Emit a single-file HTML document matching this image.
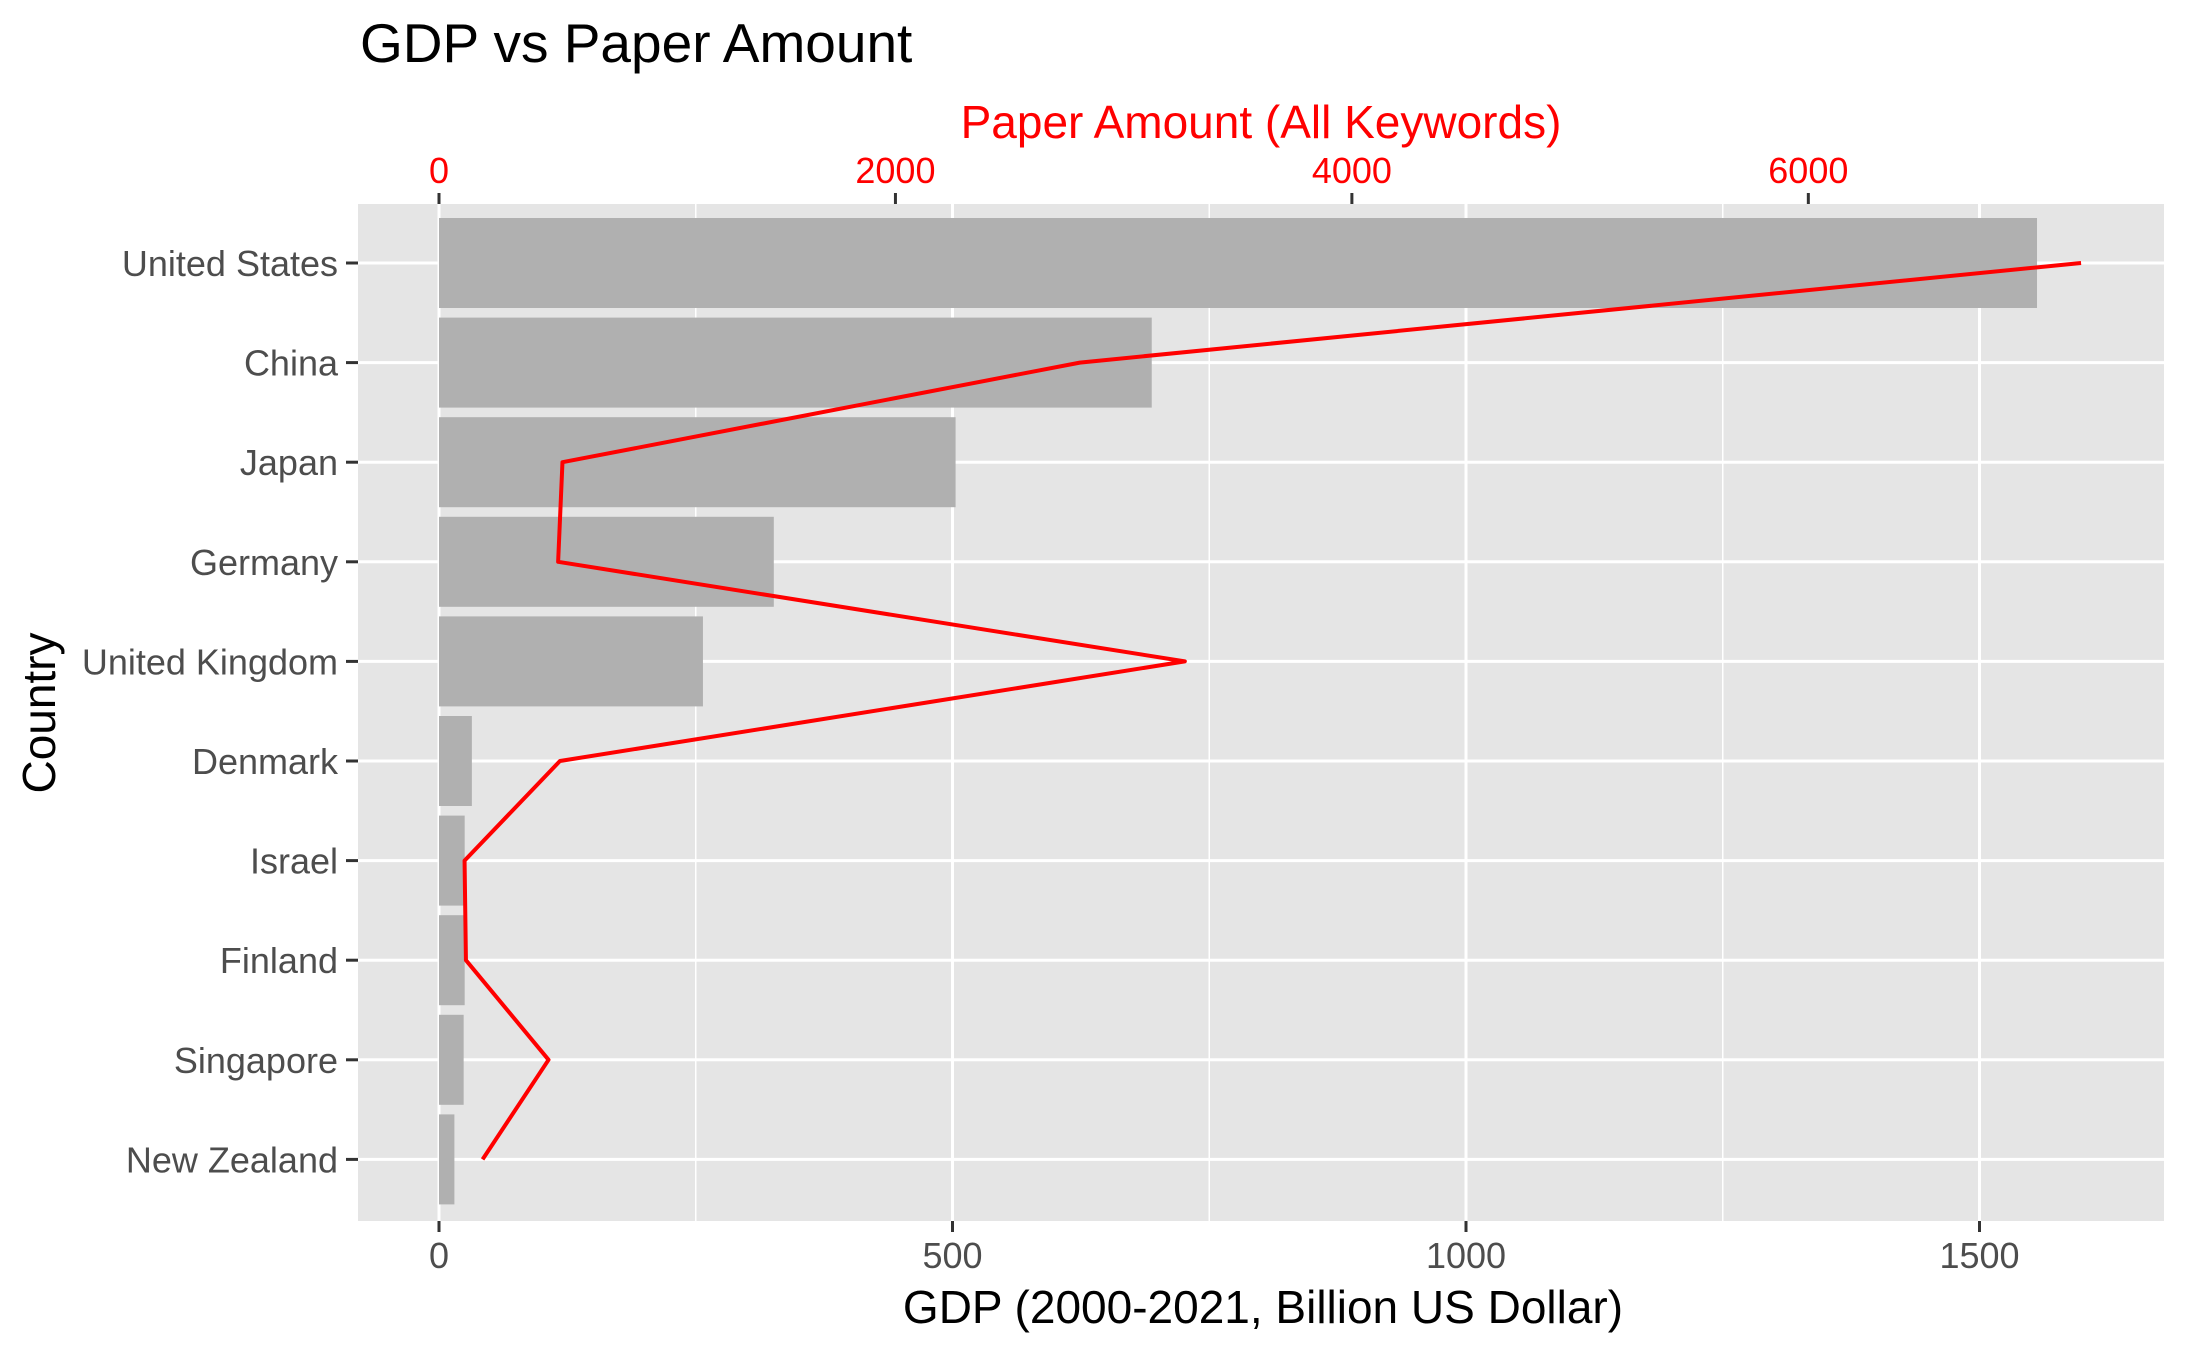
<!DOCTYPE html>
<html><head><meta charset="utf-8"><style>
html,body{margin:0;padding:0;background:#fff}
svg{display:block;font-family:"Liberation Sans",Arial,sans-serif}
</style></head><body>
<svg id="chart" width="2187" height="1351" viewBox="0 0 2187 1351" xmlns="http://www.w3.org/2000/svg">
<text x="360" y="62" font-size="55" fill="#000">GDP vs Paper Amount</text>
<rect x="358" y="204" width="1806" height="1017" fill="#e5e5e5"/>
<g id="grid"></g><g id="bars"></g><g id="line"></g><g id="axes"></g>
<text x="1261" y="138" font-size="46" fill="#ff0000" text-anchor="middle">Paper Amount (All Keywords)</text>
<text x="1263" y="1323" font-size="46" fill="#000" text-anchor="middle">GDP (2000-2021, Billion US Dollar)</text>
<text transform="translate(55,713) rotate(-90)" font-size="46" fill="#000" text-anchor="middle">Country</text>
</svg>
<script>
const countries = ["United States","China","Japan","Germany","United Kingdom","Denmark","Israel","Finland","Singapore","New Zealand"];
const gdp = [1556,694,503,326,257,32,25,25,24,15];
const papers = [7195,2808,541,522,3268,530,112,118,480,191];
const gdpTicks = [0,500,1000,1500];
const gdpMinor = [250,750,1250];
const paperTicks = [0,2000,4000,6000];
const paperScale = 4.5;

const NS="http://www.w3.org/2000/svg";
const x0=439, kx=1.027;
const X=v=>x0+v*kx;
const XP=p=>X(p/paperScale);
const Y=i=>263+i*99.6;
function mk(tag,attrs,parent,text){const e=document.createElementNS(NS,tag);for(const k in attrs)e.setAttribute(k,attrs[k]);if(text!==undefined)e.textContent=text;parent.appendChild(e);return e;}
const grid=document.getElementById('grid'),bars=document.getElementById('bars'),line=document.getElementById('line'),axes=document.getElementById('axes');
gdpMinor.forEach(v=>{const e=mk('line',{x1:X(v),x2:X(v),y1:204,y2:1221,stroke:'#fff','stroke-width':1.5},grid);

});
gdpTicks.forEach(v=>{const e=mk('line',{x1:X(v),x2:X(v),y1:204,y2:1221,stroke:'#fff','stroke-width':3},grid);


const t=mk('line',{x1:X(v),x2:X(v),y1:1221,y2:1232,stroke:'#333','stroke-width':3},axes);


const l=mk('text',{x:X(v),y:1268,'font-size':36,fill:'#4d4d4d','text-anchor':'middle'},axes,String(v));

});
paperTicks.forEach(p=>{const t=mk('line',{x1:XP(p),x2:XP(p),y1:193,y2:204,stroke:'#333','stroke-width':3},axes);


const l=mk('text',{x:XP(p),y:183,'font-size':36,fill:'#ff0000','text-anchor':'middle'},axes,String(p));

});
countries.forEach((c,i)=>{const g=mk('line',{x1:358,x2:2164,y1:Y(i),y2:Y(i),stroke:'#fff','stroke-width':3},grid);


const b=mk('rect',{x:X(0),y:Y(i)-45,width:X(gdp[i])-X(0),height:90,fill:'#b0b0b0'},bars);


const t=mk('line',{x1:346,x2:358,y1:Y(i),y2:Y(i),stroke:'#333','stroke-width':3},axes);


const l=mk('text',{x:338,y:Y(i)+13,'font-size':36,fill:'#4d4d4d','text-anchor':'end'},axes,c);

});
const pts=papers.map((p,i)=>XP(p)+','+Y(i)).join(' ');
const pl=mk('polyline',{points:pts,fill:'none',stroke:'#ff0000','stroke-width':4,'stroke-linejoin':'round'},line);


</script>
</body></html>
